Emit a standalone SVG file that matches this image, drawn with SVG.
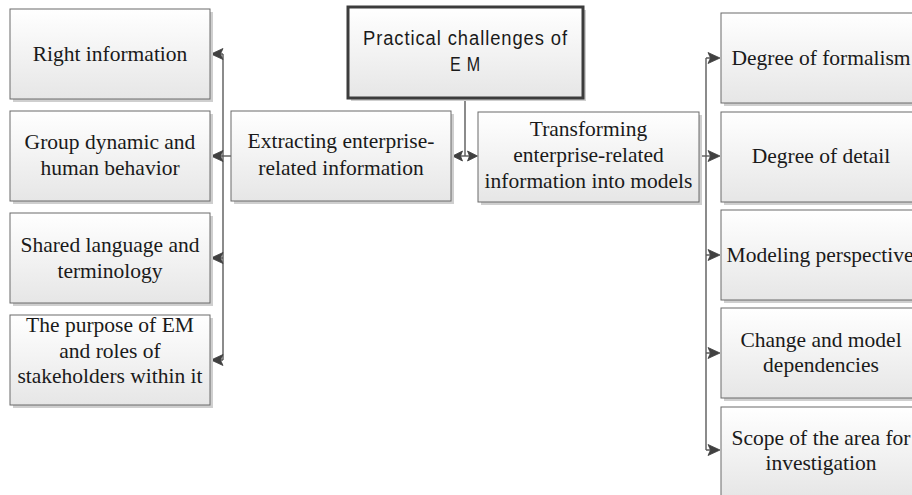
<svg xmlns="http://www.w3.org/2000/svg" width="912" height="495" viewBox="0 0 912 495">
<style>
.box{fill:url(#g);stroke:#6a6a6a;stroke-width:1}
.sh{fill:#cfcfcf}
.t{font-family:"Liberation Serif","Times New Roman",serif;font-size:21.5px;fill:#1a1a1a;text-anchor:middle}
.tt{font-family:"Liberation Sans",Arial,sans-serif;font-size:20px;fill:#1a1a1a;letter-spacing:1px}
.c{fill:none;stroke:#5a5a5a;stroke-width:1.4}
.ah{fill:#404040;stroke:#404040;stroke-width:0.8;stroke-linejoin:round}
</style>
<defs>
<linearGradient id="g" x1="0" y1="0" x2="0" y2="1">
<stop offset="0" stop-color="#ffffff"/>
<stop offset="1" stop-color="#e6e6e6"/>
</linearGradient>
<path id="al" d="M0,0 L12,-5.5 L9.5,0 L12,5.5 Z"/>
<path id="ar" d="M0,0 L-12,-5.5 L-9.5,0 L-12,5.5 Z"/>
<path id="sl" d="M0,0 L10,-5 L8,0 L10,5 Z"/>
<path id="sr" d="M0,0 L-10,-5 L-8,0 L-10,5 Z"/>
</defs>
<rect width="912" height="495" fill="#ffffff"/>

<g id="connectors">
<path class="c" d="M231,156 H223"/>
<path class="c" d="M223,54 V360"/>
<path class="c" d="M223,54 H218 M223,156 H218 M223,258 H218 M223,360 H218"/>
<use href="#al" class="ah" x="211" y="54"/>
<use href="#al" class="ah" x="211" y="156"/>
<use href="#al" class="ah" x="211" y="258"/>
<use href="#al" class="ah" x="211" y="360"/>
<path class="c" d="M465,99 V156"/>
<path class="c" d="M459,156 H471"/>
<use href="#sl" class="ah" x="452.5" y="156"/>
<use href="#sr" class="ah" x="477.5" y="156"/>
<path class="c" d="M699,156 H714"/>
<path class="c" d="M706,58 V450"/>
<path class="c" d="M706,58 H714 M706,255 H714 M706,353 H714 M706,450 H714"/>
<use href="#ar" class="ah" x="720" y="58"/>
<use href="#ar" class="ah" x="720" y="156"/>
<use href="#ar" class="ah" x="720" y="255"/>
<use href="#ar" class="ah" x="720" y="353"/>
<use href="#ar" class="ah" x="720" y="450"/>
</g>

<g id="root">
<rect class="sh" x="351" y="10" width="235" height="91"/>
<rect x="348" y="7" width="235" height="91" fill="url(#g)" stroke="#3c3c3c" stroke-width="3"/>
<text class="tt" x="363" y="45" textLength="205" lengthAdjust="spacingAndGlyphs">Practical challenges of</text>
<text class="tt" x="450" y="71" textLength="31" lengthAdjust="spacingAndGlyphs">E M</text>
</g>

<g id="n-extract">
<rect class="sh" x="234" y="114" width="220" height="90"/>
<rect class="box" x="231" y="111" width="220" height="90"/>
<text class="t" x="341" y="148">Extracting enterprise-</text>
<text class="t" x="341" y="175">related information</text>
</g>

<g id="n-transform">
<rect class="sh" x="481" y="115" width="221" height="90"/>
<rect class="box" x="478" y="112" width="221" height="90"/>
<text class="t" x="588.5" y="136">Transforming</text>
<text class="t" x="588.5" y="162">enterprise-related</text>
<text class="t" x="588.5" y="188">information into models</text>
</g>

<g id="n-right-info">
<rect class="sh" x="13" y="12" width="200" height="90"/>
<rect class="box" x="10" y="9" width="200" height="90"/>
<text class="t" x="110" y="61">Right information</text>
</g>

<g id="n-group">
<rect class="sh" x="13" y="114" width="200" height="90"/>
<rect class="box" x="10" y="111" width="200" height="90"/>
<text class="t" x="110" y="149">Group dynamic and</text>
<text class="t" x="110" y="175">human behavior</text>
</g>

<g id="n-shared">
<rect class="sh" x="13" y="216" width="200" height="90"/>
<rect class="box" x="10" y="213" width="200" height="90"/>
<text class="t" x="110" y="252">Shared language and</text>
<text class="t" x="110" y="278">terminology</text>
</g>

<g id="n-purpose">
<rect class="sh" x="13" y="318" width="200" height="90"/>
<rect class="box" x="10" y="315" width="200" height="90"/>
<text class="t" x="110" y="332">The purpose of EM</text>
<text class="t" x="110" y="357.5">and roles of</text>
<text class="t" x="110" y="383">stakeholders within it</text>
</g>

<g id="n-formalism">
<rect class="sh" x="724" y="16" width="200" height="90"/>
<rect class="box" x="721" y="13" width="200" height="90"/>
<text class="t" x="821" y="65">Degree of formalism</text>
</g>

<g id="n-detail">
<rect class="sh" x="724" y="115" width="200" height="90"/>
<rect class="box" x="721" y="112" width="200" height="90"/>
<text class="t" x="821" y="163">Degree of detail</text>
</g>

<g id="n-perspective">
<rect class="sh" x="724" y="213" width="200" height="90"/>
<rect class="box" x="721" y="210" width="200" height="90"/>
<text class="t" x="820" y="262">Modeling perspective</text>
</g>

<g id="n-change">
<rect class="sh" x="724" y="311" width="200" height="90"/>
<rect class="box" x="721" y="308" width="200" height="90"/>
<text class="t" x="821" y="347">Change and model</text>
<text class="t" x="821" y="372">dependencies</text>
</g>

<g id="n-scope">
<rect class="sh" x="724" y="410" width="200" height="90"/>
<rect class="box" x="721" y="407" width="200" height="90"/>
<text class="t" x="821" y="445">Scope of the area for</text>
<text class="t" x="821" y="470">investigation</text>
</g>
</svg>
